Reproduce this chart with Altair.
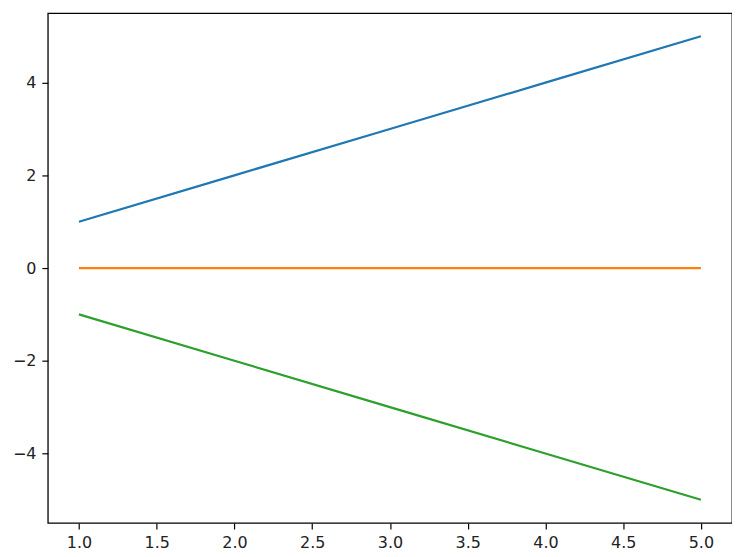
import altair as alt
import pandas as pd

x_vals = [1, 2, 3, 4, 5]
series_a = [1, 2, 3, 4, 5]
series_b = [0, 0, 0, 0, 0]
series_c = [-1, -2, -3, -4, -5]
series_names = ["a", "b", "c"]
colors = ["#1f77b4", "#ff7f0e", "#2ca02c"]
x_ticks = [1.0, 1.5, 2.0, 2.5, 3.0, 3.5, 4.0, 4.5, 5.0]
y_ticks = [-4, -2, 0, 2, 4]

rows = []
for name, ys in zip(series_names, [series_a, series_b, series_c]):
    for xv, yv in zip(x_vals, ys):
        rows.append({"x": xv, "y": yv, "s": name})
df = pd.DataFrame(rows)

axis_common = dict(
    grid=False, domain=False, tickColor="black", tickSize=6, tickWidth=1.2,
    labelColor="#222222", labelFont="DejaVu Sans", labelFontSize=16, labelPadding=6,
    title=None,
)

chart = alt.Chart(df).mark_line(strokeWidth=2.2).encode(
    x=alt.X("x:Q", scale=alt.Scale(domain=[0.8, 5.2], nice=False, zero=False),
            axis=alt.Axis(values=x_ticks, format=".1f", **axis_common)),
    y=alt.Y("y:Q", scale=alt.Scale(domain=[-5.5, 5.5], nice=False, zero=False),
            axis=alt.Axis(values=y_ticks, format="d", **axis_common)),
    color=alt.Color("s:N", scale=alt.Scale(domain=series_names, range=colors), legend=None),
    detail="s:N",
).properties(
    width=687, height=512,
    background="white",
    autosize=alt.AutoSizeParams(type="none"),
    padding={"left": 40, "top": 4, "right": 0, "bottom": 30},
).configure_view(stroke="black", strokeWidth=1.3)

chart.save("out.html", embed_options={"renderer": "svg", "actions": False})
